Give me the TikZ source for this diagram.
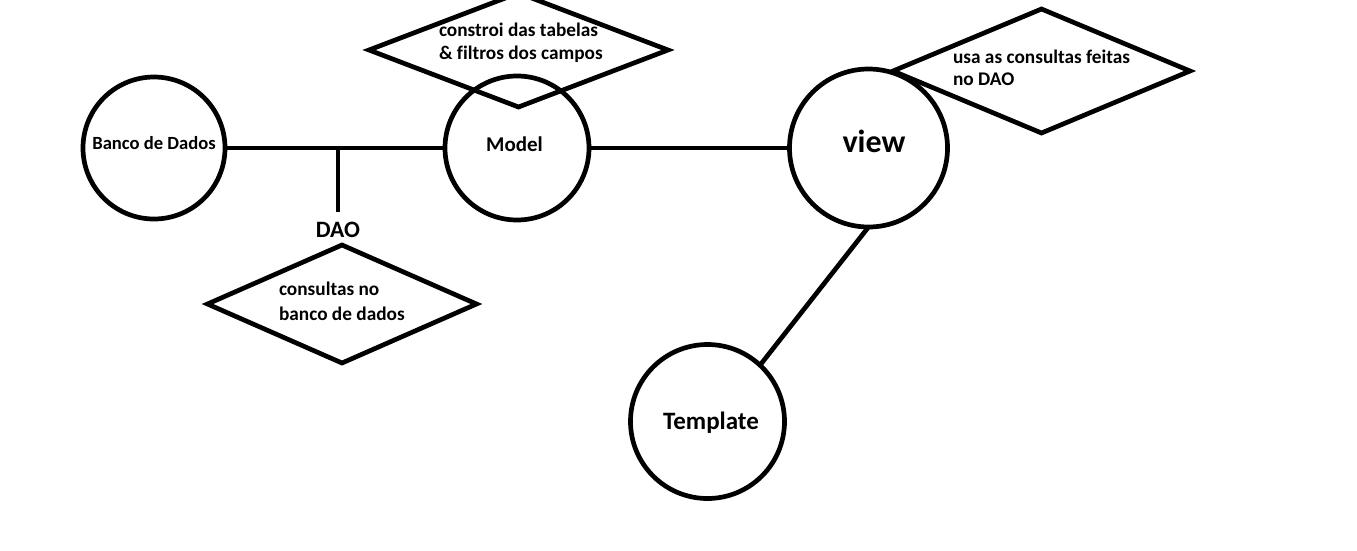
\documentclass[tikz,border=0pt]{standalone}
\usepackage{fontspec}
\setmainfont{Carlito}[Ligatures=NoCommon]
\usetikzlibrary{shapes.geometric}
\begin{document}
\begin{tikzpicture}[x=1pt,y=-1pt,
  ln/.style={line width=4.7pt},
  ent/.style={circle,draw,line width=4.7pt,inner sep=0pt,outer sep=0pt},
  rel/.style={diamond,draw,line width=4.7pt,inner sep=0pt,outer sep=0pt},
  lbl/.style={inner sep=0pt,outer sep=0pt,anchor=base,font=\bfseries\fontsize{18.6}{22}\selectfont},
  dtxt/.style={inner sep=0pt,outer sep=0pt,anchor=base west,align=left,font=\bfseries\fontsize{19.3}{23}\selectfont}]
\useasboundingbox (0,0) rectangle (1357,550);
% entities
\node[ent,minimum size=142pt] (banco) at (154,148) {};
\node[ent,minimum size=144pt] (model) at (517,148) {};
\node[ent,minimum size=158pt] (view) at (868.5,148) {};
\node[ent,minimum size=154pt] (template) at (707.5,421.5) {};
\node[lbl] (tbanco) at (154,149) {Banco de Dados};
\node[lbl,font=\bfseries\fontsize{21}{24}\selectfont] (tmodel) at (514.5,151.5) {Model};
\node[lbl,font=\bfseries\fontsize{32}{36}\selectfont] (tview) at (874,152.5) {view};
\node[lbl,font=\bfseries\fontsize{25}{28}\selectfont] (ttemplate) at (711,429) {Template};
% relationships
\node[rel,minimum width=299pt,minimum height=114pt] (r1) at (518.5,50) {};
\node[rel,minimum width=297pt,minimum height=124pt] (r2) at (1041.5,71) {};
\node[rel,minimum width=269pt,minimum height=118pt] (r3) at (342,304) {};
\node[dtxt] (t1) at (439,59) {constroi das tabelas\\\& filtros dos campos};
\node[dtxt,font=\bfseries\fontsize{19.3}{22}\selectfont] (t2) at (953,85) {usa as consultas feitas\\no DAO};
\node[dtxt,font=\bfseries\fontsize{19.3}{25}\selectfont] (t3) at (279,320) {consultas no\\banco de dados};
\node[lbl,font=\bfseries\fontsize{23.5}{26}\selectfont] (dao) at (338,237.3) {DAO};
% connectors
\coordinate (j) at (338,148);
\coordinate (daoend) at (338,212);
\draw[ln] (banco.east) -- (model.west);
\draw[ln] (j) -- (daoend);
\draw[ln] (model.east) -- (view.west);
\draw[ln] (view.south) -- (template.47.5);
\end{tikzpicture}
\end{document}
